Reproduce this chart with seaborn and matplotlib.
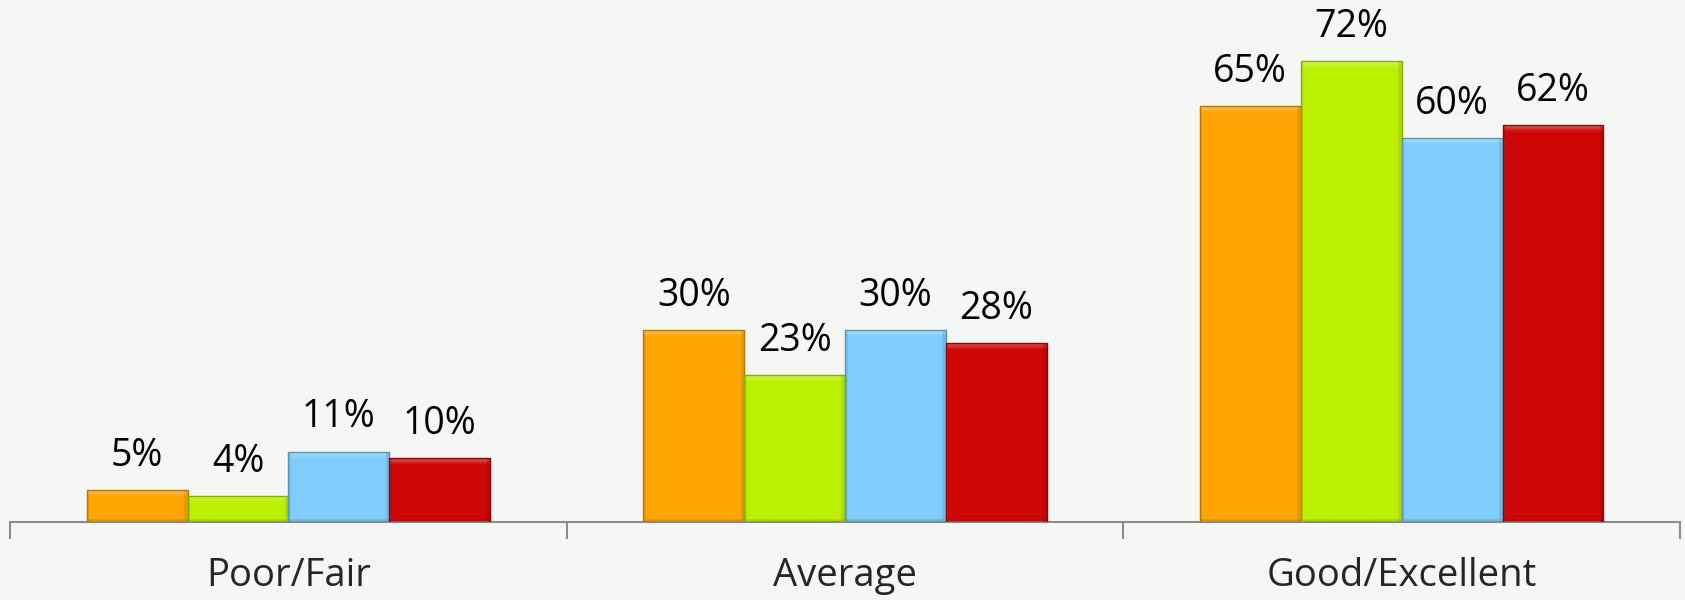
import matplotlib

matplotlib.use("Agg")

import matplotlib.pyplot as plt
import matplotlib.colors as mcolors
import pandas as pd
import seaborn as sns
from matplotlib.patches import Rectangle


categories = ["Poor/Fair", "Average", "Good/Excellent"]
series_names = ["Series 1", "Series 2", "Series 3", "Series 4"]
series_1 = [5, 30, 65]
series_2 = [4, 23, 72]
series_3 = [11, 30, 60]
series_4 = [10, 28, 62]

colors = ["#FFA504", "#BBF000", "#80CCFA", "#CE0606"]
BG = "#F5F7F5"


def build_frame() -> pd.DataFrame:
	rows = []
	for name, values in zip(series_names, [series_1, series_2, series_3, series_4]):
		for cat, val in zip(categories, values):
			rows.append({"category": cat, "series": name, "value": val})
	return pd.DataFrame(rows)


def bevel(ax, patch, color):
	x, w, h = patch.get_x(), patch.get_width(), patch.get_height()
	if h <= 0:
		return
	rgb = mcolors.to_rgb(color)
	light = tuple(min(1, c + (1 - c) * 0.5) for c in rgb)
	dark = tuple(c * 0.72 for c in rgb)
	band = min(1.0, h * 0.2)
	# soft lighter top strip and darker bottom / side edges to mimic the bevel
	steps = 5
	for k in range(steps):
		frac = (k + 1) / steps
		ax.add_patch(Rectangle((x, h - band * frac), w, band / steps, facecolor=light,
							   edgecolor="none", alpha=0.6 * (1 - k / steps), zorder=3))
	ax.add_patch(Rectangle((x, 0), w, band * 0.5, facecolor=dark, edgecolor="none", alpha=0.3, zorder=3))
	ax.add_patch(Rectangle((x + w * 0.965, 0), w * 0.035, h, facecolor=dark, edgecolor="none", alpha=0.3, zorder=3))
	ax.add_patch(Rectangle((x, 0), w * 0.025, h, facecolor=dark, edgecolor="none", alpha=0.2, zorder=3))
	ax.add_patch(Rectangle((x, 0), w, h, facecolor="none", edgecolor=dark, linewidth=1.0, zorder=4))


def main() -> None:
	df = build_frame()
	sns.set_theme(style="white")
	plt.rcParams["font.family"] = ["Open Sans", "DejaVu Sans"]

	fig = plt.figure(figsize=(16.85, 6.0), dpi=100, facecolor=BG)
	ax = fig.add_axes([0.006, 0.13, 0.991, 0.87])
	ax.set_facecolor(BG)

	sns.barplot(
		data=df,
		x="category",
		y="value",
		hue="series",
		palette=colors,
		width=0.725,
		gap=0,
		ax=ax,
		legend=False,
		saturation=1,
		edgecolor="none",
		zorder=2,
	)

	n_cat = len(categories)
	for i, container in enumerate(ax.containers):
		for patch in container:
			bevel(ax, patch, colors[i])
		ax.bar_label(
			container,
			labels=[f"{v:.0f}%" for v in container.datavalues],
			padding=11,
			fontsize=27,
			color="#000000",
		)

	ax.set_xlim(-0.5, n_cat - 0.5)
	ax.set_ylim(0, 81.6)
	ax.set_xlabel("")
	ax.set_ylabel("")
	ax.set_yticks([])

	for side in ["top", "right", "left"]:
		ax.spines[side].set_visible(False)
	ax.spines["bottom"].set_color("#8C8C8C")
	ax.spines["bottom"].set_linewidth(1.5)

	ax.set_xticks(range(n_cat))
	ax.set_xticklabels(categories, fontsize=27.5)
	ax.set_xticks([k - 0.5 for k in range(n_cat + 1)], minor=True)
	ax.tick_params(axis="x", which="major", bottom=False, length=0, pad=25)
	ax.tick_params(axis="x", which="minor", bottom=True, length=12, width=1.5,
				   color="#8C8C8C", direction="out")

	fig.savefig("out.png", dpi=100, facecolor=BG)
	plt.close(fig)


if __name__ == "__main__":
	main()
